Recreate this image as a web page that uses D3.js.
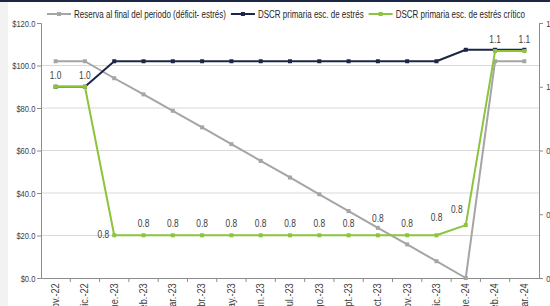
<!DOCTYPE html>
<html>
<head>
<meta charset="utf-8">
<script src="https://cdn.jsdelivr.net/npm/d3@7"></script>
<style>
  body { margin: 0; background: #fff; }
  svg { display: block; font-family: "Liberation Sans", Arial, sans-serif; }
  .axis text { fill: #404040; font-size: 9.5px; }
  .axis path, .axis line { stroke: #8c8c8c; }
</style>
</head>
<body>
<svg width="550" height="306"></svg>
<script>
// categories
var months = ["nov.-22", "dic.-22", "ene.-23", "feb.-23", "mar.-23", "abr.-23", "may.-23", "jun.-23",
  "jul.-23", "ago.-23", "sept.-23", "oct.-23", "nov.-23", "dic.-23", "ene.-24", "feb.-24", "mar.-24"];

// reserva al final del periodo (left axis, $)
var reserva = [102, 102, 94, 86.4, 78.7, 70.9, 63.0, 55.1, 47.3, 39.4, 31.5, 23.6, 15.8, 7.9, 0, 102, 102];
// DSCR primaria esc. de estrés (right axis)
var dscrEstres = [1.0, 1.0, 1.04, 1.04, 1.04, 1.04, 1.04, 1.04, 1.04, 1.04, 1.04, 1.04, 1.04, 1.04, 1.058, 1.058, 1.058];
// DSCR primaria esc. de estrés crítico (right axis)
var dscrCritico = [1.0, 1.0, 0.767, 0.767, 0.767, 0.767, 0.767, 0.767, 0.767, 0.767, 0.767, 0.767, 0.767, 0.767, 0.783, 1.056, 1.056];

var leftTicks = [0, 20, 40, 60, 80, 100, 120];
var rightTicks = [0.7, 0.8, 0.9, 1.0, 1.1];
var legendNames = ["Reserva al final del periodo (déficit- estrés)", "DSCR primaria esc. de estrés", "DSCR primaria esc. de estrés crítico"];

var svg = d3.select("svg"),
    margin = {top: 23, right: 11, bottom: 28, left: 41},
    width = +svg.attr("width") - margin.left - margin.right,
    height = +svg.attr("height") - margin.top - margin.bottom;

var colors = {reserva: "#a5a5a5", estres: "#1c2745", critico: "#8cc43c"};
var squeeze = 0.8; // the original uses a narrow font

// frame bits from the original screenshot
svg.append("rect").attr("x", 0).attr("y", 0).attr("width", 8).attr("height", 306).attr("fill", "#f2f2f2");
svg.append("rect").attr("x", 0).attr("y", 0).attr("width", 550).attr("height", 2).attr("fill", "#1c2745");

var x = d3.scaleBand().domain(months).range([0, width]),
    yL = d3.scaleLinear().domain([0, 120]).range([height, 0]),
    yR = d3.scaleLinear().domain([0.7, 1.1]).range([height, 0]);

var g = svg.append("g").attr("transform", "translate(" + margin.left + "," + margin.top + ")");

// gridlines
g.append("g").selectAll("line")
    .data(leftTicks.filter(function(d) { return d > 0 && d < 120; }))
    .enter().append("line")
    .attr("x1", 0).attr("x2", width)
    .attr("y1", function(d) { return yL(d); })
    .attr("y2", function(d) { return yL(d); })
    .attr("stroke", "#d9d9d9");

// axes
var left = g.append("g").attr("class", "axis")
    .call(d3.axisLeft(yL).tickValues(leftTicks).tickSize(4).tickPadding(3)
      .tickFormat(function(d) { return "$" + d.toFixed(1); }));
left.selectAll(".tick text").attr("transform", "scale(" + squeeze + ",1)");

var right = g.append("g").attr("class", "axis")
    .attr("transform", "translate(" + width + ",0)")
    .call(d3.axisRight(yR).tickValues(rightTicks).tickSize(4).tickPadding(5)
      .tickFormat(function(d) { return d.toFixed(1); }));
right.selectAll(".tick text").attr("transform", "scale(" + squeeze + ",1)");

var xAxis = g.append("g").attr("class", "axis")
    .attr("transform", "translate(0," + height + ")")
    .call(d3.axisBottom(x).tickSize(0).tickPadding(0));
xAxis.selectAll(".tick text")
    .attr("transform", "rotate(-90) scale(0.88,1)")
    .attr("x", -6).attr("y", 0).attr("dy", "0.32em")
    .style("text-anchor", "end")
    .style("font-size", "10.5px");
// tick marks between categories
xAxis.selectAll("line.sep")
    .data(months.slice(1))
    .enter().append("line")
    .attr("class", "sep")
    .attr("x1", function(d) { return x(d); })
    .attr("x2", function(d) { return x(d); })
    .attr("y1", 0).attr("y2", 4);

function xc(i) { return x(months[i]) + x.bandwidth() / 2; }

function drawSeries(values, scale, color) {
  var line = d3.line()
      .x(function(d, i) { return xc(i); })
      .y(function(d) { return scale(d); });
  g.append("path").datum(values)
      .attr("fill", "none").attr("stroke", color).attr("stroke-width", 2)
      .attr("stroke-linejoin", "round")
      .attr("d", line);
  g.append("g").selectAll("rect")
      .data(values).enter().append("rect")
      .attr("x", function(d, i) { return xc(i) - 2; })
      .attr("y", function(d) { return scale(d) - 2; })
      .attr("width", 4).attr("height", 4)
      .attr("fill", color);
}

drawSeries(reserva, yL, colors.reserva);
drawSeries(dscrEstres, yR, colors.estres);
drawSeries(dscrCritico, yR, colors.critico);

// data labels on the critical series
var shiftUp = {11: 5, 13: 6};
g.append("g").selectAll("text")
    .data(dscrCritico).enter().append("text")
    .attr("transform", function(d, i) {
      var lx = xc(i), ly = yR(d) - 8 - (shiftUp[i] || 0);
      if (i === 2) { lx = xc(i) - 5; ly = yR(d) + 3; }
      if (i === 14) { lx = xc(i) - 9; ly = yR(d) - 12; }
      return "translate(" + lx + "," + ly + ") scale(" + squeeze + ",1)";
    })
    .attr("text-anchor", function(d, i) { return i === 2 ? "end" : "middle"; })
    .attr("fill", "#404040")
    .style("font-size", "10.5px")
    .text(function(d) { return d.toFixed(1); });

// legend
var legend = svg.append("g").attr("transform", "translate(47,14)");
var lx = 0;
[colors.reserva, colors.estres, colors.critico].forEach(function(c, i) {
  var item = legend.append("g").attr("transform", "translate(" + lx + ",0)");
  item.append("line").attr("x1", 0).attr("x2", 24).attr("y1", 0).attr("y2", 0)
      .attr("stroke", c).attr("stroke-width", 2);
  item.append("rect").attr("x", 10).attr("y", -2).attr("width", 4).attr("height", 4).attr("fill", c);
  var t = item.append("text")
      .attr("transform", "translate(27,3.5) scale(" + squeeze + ",1)")
      .attr("fill", "#262626").style("font-size", "10px")
      .text(legendNames[i]);
  lx += 27 + t.node().getComputedTextLength() * squeeze + 5;
});
</script>
</body>
</html>
